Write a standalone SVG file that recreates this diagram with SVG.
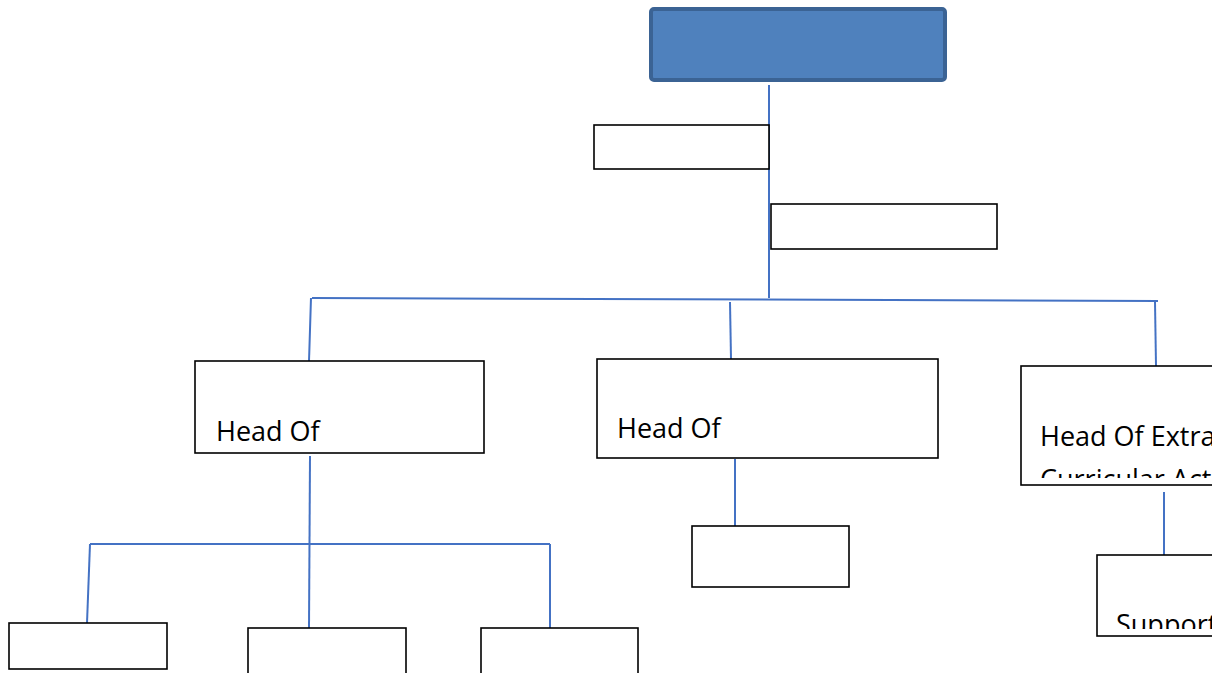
<svg xmlns="http://www.w3.org/2000/svg" width="1212" height="673" viewBox="0 0 1212 673">
<style>
.box{fill:#fff;stroke:#000;stroke-width:1.6}
.ln{stroke:#4472c4;stroke-width:2;fill:none}
.t{font-family:"Open Sans","Liberation Sans",sans-serif;font-size:27px;fill:#000}
</style>
<defs>
<clipPath id="c3"><rect x="1021" y="366" width="200" height="112"/></clipPath>
<clipPath id="c4"><rect x="1097" y="555" width="120" height="74"/></clipPath>
</defs>
<rect width="1212" height="673" fill="#fff"/>
<g id="connectors">
<path class="ln" d="M769 85V298"/>
<path class="ln" d="M312 298L1158 301"/>
<path class="ln" d="M311 298L309 361"/>
<path class="ln" d="M730 302L731 359"/>
<path class="ln" d="M1155 302L1156 366"/>
<path class="ln" d="M310 456L309 628"/>
<path class="ln" d="M90 544H550"/>
<path class="ln" d="M90 544L87 623"/>
<path class="ln" d="M550 544V628"/>
<path class="ln" d="M735 459V526"/>
<path class="ln" d="M1164 492V555"/>
</g>
<g id="top"><rect x="651" y="9" width="294" height="71" rx="3" fill="#4f81bd" stroke="#3b6394" stroke-width="4"/></g>
<g id="n1"><rect class="box" x="594" y="125" width="175" height="44"/></g>
<g id="n2"><rect class="box" x="771" y="204" width="226" height="45"/></g>
<g id="h1"><rect class="box" x="195" y="361" width="289" height="92"/><text class="t" x="216" y="441">Head Of</text></g>
<g id="h2"><rect class="box" x="597" y="359" width="341" height="99"/><text class="t" x="617" y="438">Head Of</text></g>
<g id="h3"><rect class="box" x="1021" y="366" width="200" height="119"/><g clip-path="url(#c3)"><text class="t" x="1040" y="446">Head Of Extra</text><text class="t" x="1040" y="489">Curricular Activities</text></g></g>
<g id="m1"><rect class="box" x="692" y="526" width="157" height="61"/></g>
<g id="s1"><rect class="box" x="1097" y="555" width="120" height="81"/><g clip-path="url(#c4)"><text class="t" x="1116" y="634">Support</text></g></g>
<g id="b1"><rect class="box" x="9" y="623" width="158" height="46"/></g>
<g id="b2"><rect class="box" x="248" y="628" width="158" height="50"/></g>
<g id="b3"><rect class="box" x="481" y="628" width="157" height="50"/></g>
</svg>
